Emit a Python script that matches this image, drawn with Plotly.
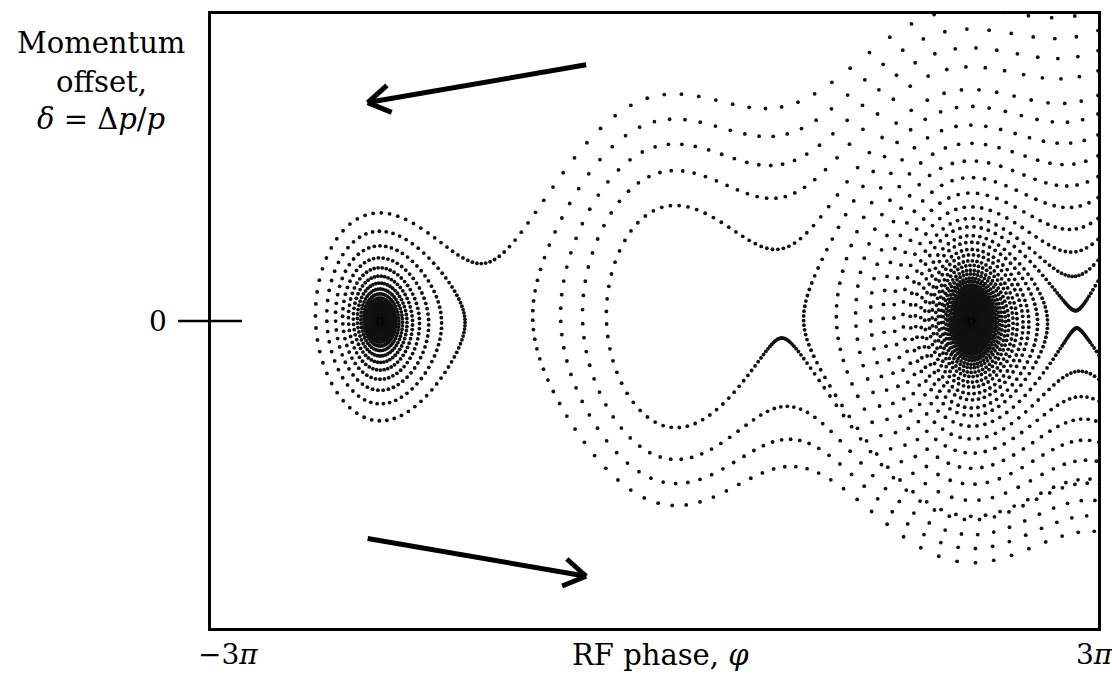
import numpy as np
import plotly.graph_objects as go

# ---------------- data / model parameters ----------------
# Starting momentum offsets of the tracked particles (all launched at phi = 3*pi)
PHI_START = 3 * np.pi
DELTA_START = [0.1297, 0.1977, 0.2658, 0.3339, 0.4019, 0.4700, 0.5381,
               0.6062, 0.6742, 0.7350, 0.8150, 0.8810, 0.9460, 1.0140]
N_TURNS = 2600            # maximum turns tracked per particle
DRIFT = 0.497             # phase slip per turn per unit delta
KICK = 0.0317             # RF kick amplitude per turn
SIN_PHIS = 0.44           # sin(synchronous phase)  (energy loss per turn / eV)
BUCKET_CENTRE = 0.45      # phase of a stable fixed point
DAMPING = 0.0063          # radiation damping decrement per turn

X_TICK_LABELS = ["\u22123<i>\u03c0</i>", "3<i>\u03c0</i>"]
Y_TICK_LABEL = "0"

# ---------------- tracking ----------------
phase_offset = BUCKET_CENTRE - np.arcsin(SIN_PHIS)
phis, deltas = [], []
for d0 in DELTA_START:
    phi, d = PHI_START, d0
    phis.append(phi)
    deltas.append(d)
    for n in range(N_TURNS):
        d = d * (1.0 - DAMPING) + KICK * (np.sin(phi - phase_offset) - SIN_PHIS)
        phi = phi - DRIFT * d
        if phi > 3 * np.pi + 0.6 or phi < -3 * np.pi - 0.6:
            break
        phis.append(phi)
        deltas.append(d)

# ---------------- figure ----------------
W, H = 1112, 678
L, R, T, B = 211, 12, 11, 50
pw, ph = W - L - R, H - T - B
xr = [-3 * np.pi, 3 * np.pi]
yr = [-1.0, 1.0]
sx = pw / (xr[1] - xr[0])
sy = ph / (yr[1] - yr[0])

fig = go.Figure()
fig.add_trace(go.Scatter(x=phis, y=deltas, mode="markers",
                         marker=dict(size=3.8, color="#111111", line=dict(width=0)),
                         hoverinfo="skip", showlegend=False))

FONT = "DejaVu Serif"

fig.update_layout(
    width=W, height=H, margin=dict(l=L, r=R, t=T, b=B),
    paper_bgcolor="white", plot_bgcolor="white",
    xaxis=dict(range=xr, showgrid=False, zeroline=False, showticklabels=False,
               ticks="", showline=True, mirror=True, linecolor="black", linewidth=2.8),
    yaxis=dict(range=yr, showgrid=False, zeroline=False, showticklabels=False,
               ticks="", showline=True, mirror=True, linecolor="black", linewidth=2.8),
)

def px2paper_x(px):
    return (px - L) / pw

def py2paper_y(py):
    return (H - B - py) / ph

# y tick at delta = 0 crossing the left axis
fig.add_shape(type="line", xref="paper", yref="y", x0=px2paper_x(178), x1=px2paper_x(242),
              y0=0, y1=0, line=dict(color="black", width=2.5))
fig.add_annotation(xref="paper", yref="y", x=px2paper_x(158), y=0, text=Y_TICK_LABEL,
                   showarrow=False, xanchor="center", yanchor="middle",
                   font=dict(family=FONT, size=28, color="black"))

# x tick labels and axis title
fig.add_annotation(xref="paper", yref="paper", x=px2paper_x(228), y=py2paper_y(655),
                   text=X_TICK_LABELS[0], showarrow=False, xanchor="center", yanchor="middle",
                   font=dict(family=FONT, size=28, color="black"))
fig.add_annotation(xref="paper", yref="paper", x=px2paper_x(1096), y=py2paper_y(655),
                   text=X_TICK_LABELS[1], showarrow=False, xanchor="center", yanchor="middle",
                   font=dict(family=FONT, size=28, color="black"))
fig.add_annotation(xref="paper", yref="paper", x=px2paper_x(662), y=py2paper_y(655),
                   text="RF phase, <i>\u03c6</i>", showarrow=False, xanchor="center",
                   yanchor="middle", font=dict(family=FONT, size=29, color="black"))

for txt, py in [("Momentum", 40), ("offset,", 79), ("<i>\u03b4</i> = \u0394<i>p</i>/<i>p</i>", 117)]:
    fig.add_annotation(xref="paper", yref="paper", x=px2paper_x(101), y=py2paper_y(py),
                       text=txt, showarrow=False, xanchor="center", yanchor="middle",
                       font=dict(family=FONT, size=29, color="black"))

# flow-direction arrows (drawn in pixel geometry, placed in data space)
def to_data(px, py):
    return xr[0] + (px - L) / sx, yr[1] - (py - T) / sy

def arrow(tail, tip, leg=26, ang=32):
    tx, ty = to_data(*tail)
    hx, hy = to_data(*tip)
    fig.add_shape(type="line", x0=tx, y0=ty, x1=hx, y1=hy,
                  line=dict(color="black", width=5))
    vx, vy = tail[0] - tip[0], tail[1] - tip[1]
    n = np.hypot(vx, vy)
    vx, vy = vx / n, vy / n
    for a in (ang, -ang):
        r = np.radians(a)
        ex = tip[0] + leg * (vx * np.cos(r) - vy * np.sin(r))
        ey = tip[1] + leg * (vx * np.sin(r) + vy * np.cos(r))
        dx, dy = to_data(ex, ey)
        fig.add_shape(type="line", x0=hx, y0=hy, x1=dx, y1=dy,
                      line=dict(color="black", width=5))

arrow((587, 62), (368, 100))
arrow((368, 538), (587, 576))

fig.write_html("out.html", config={"displayModeBar": False},
               post_script="document.body.style.margin='0px';")
